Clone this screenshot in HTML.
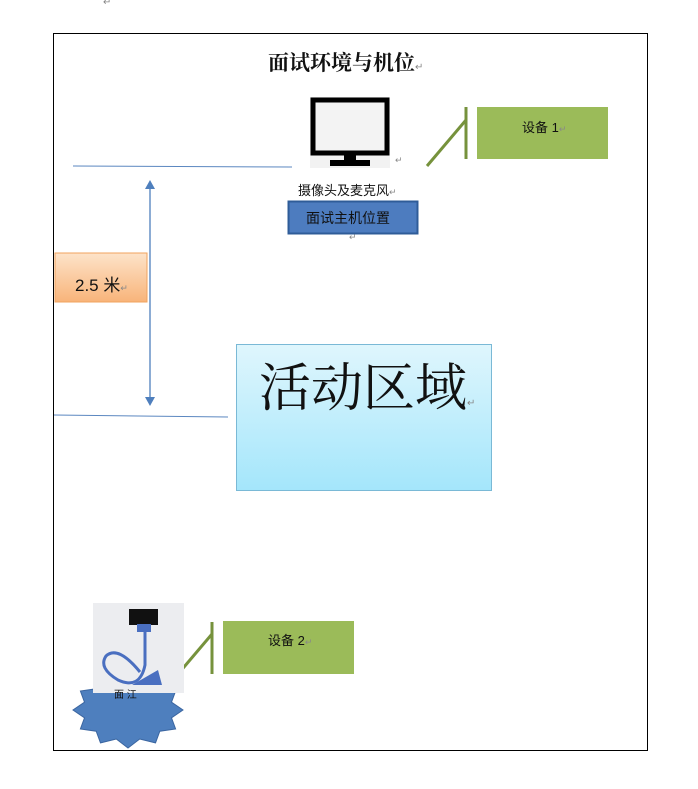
<!DOCTYPE html>
<html><head><meta charset="utf-8"><style>
body{margin:0;width:698px;height:789px;background:#fff;position:relative;overflow:hidden;font-family:"Liberation Sans","Noto Sans CJK SC",sans-serif}
.a{position:absolute}
</style></head><body>
<div class="a" style="left:103px;top:-3px;font-size:10px;color:#888">↵</div>
<div class="a" style="left:53px;top:33px;width:595px;height:718px;border:1px solid #000;box-sizing:border-box"></div>
<div class="a" style="left:268px;top:47px;font-size:21px;font-weight:bold;font-family:'Noto Serif CJK SC',serif;color:#111">面试环境与机位<span style="font-size:10px;color:#888;font-weight:normal">↵</span></div>

<svg class="a" style="left:0;top:0" width="698" height="789">
 <defs><linearGradient id="g" x1="0" y1="0" x2="0" y2="1"><stop offset="0" stop-color="#dff6fd"/><stop offset="1" stop-color="#a4e6fb"/></linearGradient>
 <linearGradient id="o" x1="0" y1="0" x2="0" y2="1"><stop offset="0" stop-color="#fde3c9"/><stop offset="1" stop-color="#f8b47a"/></linearGradient></defs>
 <rect x="310" y="97" width="80" height="71" fill="#f2f2f2"/>
 <rect x="313" y="100" width="74" height="53" fill="#f3f3f3" stroke="#000" stroke-width="5"/>
 <rect x="344" y="155" width="12" height="6" fill="#000"/>
 <rect x="330" y="160" width="40" height="6" fill="#000"/>
 <line x1="73" y1="166" x2="292" y2="167" stroke="#5b87c0" stroke-width="1"/>
 <line x1="54" y1="415" x2="228" y2="417" stroke="#5b87c0" stroke-width="1"/>
 <line x1="150" y1="186" x2="150" y2="400" stroke="#4f7fbd" stroke-width="1.3"/>
 <polygon points="150,180 145,189 155,189" fill="#4f7fbd"/>
 <polygon points="150,406 145,397 155,397" fill="#4f7fbd"/>
 <rect x="55" y="253" width="92" height="49" fill="url(#o)" stroke="#f1a35e"/>
 <rect x="236.5" y="344.5" width="255" height="146" fill="url(#g)" stroke="#7ab9d6"/>
 <rect x="288.5" y="201.5" width="129" height="32" fill="#4d7cbf" stroke="#2f5c98" stroke-width="2"/>
 <rect x="477" y="107" width="131" height="52" fill="#9bbb59"/>
 <line x1="466" y1="107" x2="466" y2="159" stroke="#76923c" stroke-width="3"/>
 <line x1="466" y1="120" x2="427" y2="166" stroke="#76923c" stroke-width="3"/>
 <rect x="223" y="621" width="131" height="53" fill="#9bbb59"/>
 <line x1="212" y1="622" x2="212" y2="674" stroke="#76923c" stroke-width="3"/>
 <line x1="212" y1="634" x2="173" y2="680" stroke="#76923c" stroke-width="3"/>
 <polygon fill="#4e7fbe" stroke="#3a65a0" points="183,710 171.5,717.8 175.6,729 159.8,731.2 155.5,742.9 139.7,739 128,748 116.3,739 100.5,742.9 96.2,731.2 80.4,729 84.5,717.8 73,710 84.5,702.2 80.4,691 96.2,688.8 100.5,677.1 116.3,681 128,672 139.7,681 155.5,677.1 159.8,688.8 175.6,691 171.5,702.2"/>
 <rect x="93" y="603" width="91" height="90" fill="#ecedf0"/>
 <rect x="129" y="609" width="29" height="16" fill="#111"/>
 <rect x="137" y="624" width="14" height="8" fill="#4a6fc0"/>
 <path d="M145 632 L145 665 Q140 690 118 680 Q98 668 106 656 Q118 645 140 672" fill="none" stroke="#4a6fc0" stroke-width="3"/>
 <path d="M132 685 L158 670 L162 685 Z" fill="#4a6fc0"/>
</svg>
<div class="a" style="left:114px;top:686px;font-size:10px;color:#111">面 江</div>
<div class="a" style="left:395px;top:155px;font-size:9px;color:#888">↵</div>
<div class="a" style="left:298px;top:180px;font-size:13px;color:#111">摄像头及麦克风<span style="font-size:9px;color:#888">↵</span></div>
<div class="a" style="left:306px;top:208px;font-size:14px;color:#111">面试主机位置</div>
<div class="a" style="left:349px;top:232px;font-size:9px;color:#888">↵</div>
<div class="a" style="left:75px;top:271px;font-size:17px;color:#111">2.5 米<span style="font-size:9px;color:#888">↵</span></div>
<div class="a" style="left:259px;top:352px;font-size:52px;font-family:'Noto Serif CJK SC',serif;color:#111;line-height:64px">活动区域<span style="font-size:10px;color:#888">↵</span></div>
<div class="a" style="left:522px;top:117px;font-size:13px;color:#111">设备 1<span style="font-size:9px;color:#888">↵</span></div>
<div class="a" style="left:268px;top:630px;font-size:13px;color:#111">设备 2<span style="font-size:9px;color:#888">↵</span></div>
</body></html>
